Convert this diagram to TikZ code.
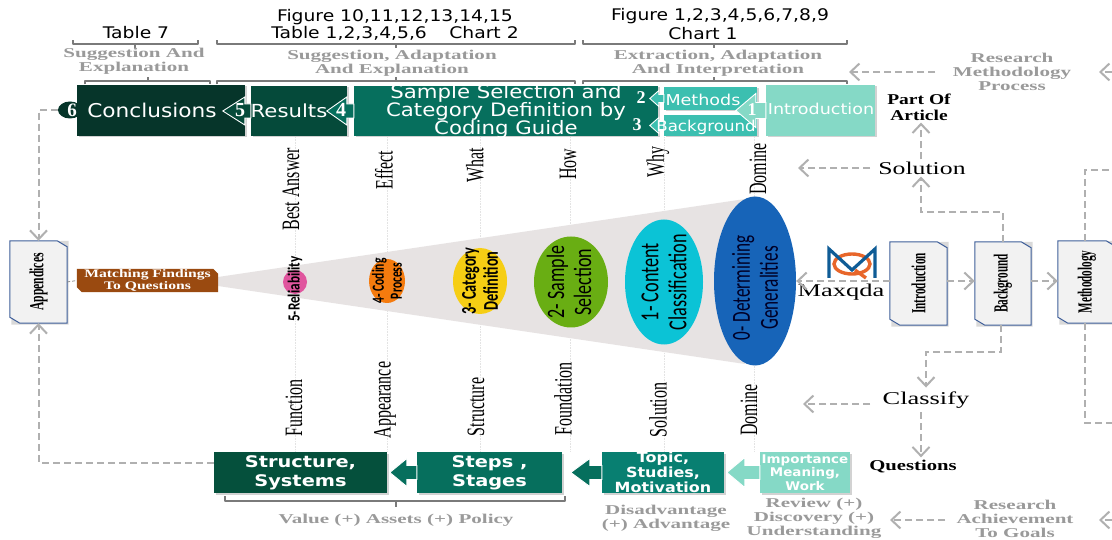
\documentclass[tikz,border=0pt]{standalone}
\usepackage{fontspec}
\setmainfont{Liberation Serif}
\newfontfamily\dvs{DejaVu Sans}
\newfontfamily\carl{Carlito}
\usetikzlibrary{arrows.meta,shapes.geometric,shadows}
\definecolor{dashgray}{HTML}{B0B0B0}
\definecolor{lblgray}{HTML}{9A9A9A}
\definecolor{brk}{HTML}{7A7A7A}
\definecolor{conc}{HTML}{06352A}
\definecolor{resl}{HTML}{054A3A}
\definecolor{samp}{HTML}{066F5D}
\definecolor{meth}{HTML}{3CBFB0}
\definecolor{intr}{HTML}{85D9C6}
\definecolor{strc}{HTML}{05503C}
\definecolor{topc}{HTML}{087F71}
\definecolor{docb}{HTML}{3F5F9A}
\definecolor{brown}{HTML}{9A4A10}
\definecolor{cone}{HTML}{E7E3E3}
\definecolor{epink}{HTML}{E0559E}
\definecolor{eorange}{HTML}{F57B0E}
\definecolor{eyellow}{HTML}{F6CE14}
\definecolor{egreen}{HTML}{69AE13}
\definecolor{ecyan}{HTML}{0BC3D6}
\definecolor{eblue}{HTML}{1764B8}
\definecolor{mnavy}{HTML}{0F5C96}
\definecolor{morange}{HTML}{E8662A}
\newcommand\fs[2]{\fontsize{#1}{#2}\selectfont}
% scaled stack of centred lines
\newcommand\stk[2]{\scalebox{#1}[1]{\vbox{\halign{\hfil##\hfil\cr#2\crcr}}}}
% left-pointing block arrow leaving a node's west side
\newcommand\blockarr[6]{\draw[white,line width=0.9pt,fill=#6,line join=miter]
  (#1.west) ++(0,#5) -- ++({-(#2-#3)},0) -- ++(0,{#4-#5}) -- ++({-#3},{-#4}) -- ++(#3,{-#4}) -- ++(0,{#4-#5}) -- ++({#2-#3},0) -- cycle;}
% brackets
\newcommand\brkdn[4]{\draw[brk,line width=1.6pt,line join=round] (#1,#3-3.5) -- (#1,#3) -- (#2,#3) -- (#2,#3-3.5) (#4,#3) -- (#4,#3+4.5);}
\newcommand\brkup[4]{\draw[brk,line width=1.6pt,line join=round] (#1,#3+3.5) -- (#1,#3) -- (#2,#3) -- (#2,#3+3.5) (#4,#3) -- (#4,#3-4);}
\newcommand\brkbot[4]{\draw[brk,line width=1.6pt,line join=round] (#1,#3-5) -- (#1,#3) -- (#2,#3) -- (#2,#3-5) (#4,#3) -- (#4,#3+6);}
% document box
\newcommand\docbox[5]{%
 \node[inner sep=0pt,minimum width=#4pt,minimum height=#5pt] (#1) at (#2,#3) {};
 \fill[black!15] ([shift={(1.5pt,-1.5pt)}]#1.north west) ++(0,0) -- ([shift={(1.5pt,0pt)}]#1.north east) -- ([shift={(1.5pt,-1.5pt)}]#1.south east) -- ([shift={(1.5pt,-1.5pt)}]#1.south west) -- cycle;
 \draw[docb,line width=1pt,fill=black!5] (#1.north west) -- ([xshift=-10pt]#1.north east) -- ([yshift=-6pt]#1.north east) -- (#1.south east) -- ([xshift=10pt]#1.south west) -- ([yshift=6pt]#1.south west) -- cycle;}
\tikzset{
 x=1pt,y=-1pt,
 boxs/.style={rectangle,inner sep=0pt,text=white,align=center,drop shadow={opacity=.35,shadow xshift=1.5pt,shadow yshift=-1.5pt}},
 dv/.style={font=\dvs\fs{#1}{#1}},
 dvw/.style={inner sep=0pt,text=white,font=\dvs\fs{#1}{#1}},
 dvb/.style 2 args={inner sep=0pt,text=white,font=\dvs\bfseries\fs{#1}{#2}},
 dline/.style={dashgray,line width=2pt,dash pattern=on 7pt off 4pt},
 dar/.style={dline,-{Straight Barb[length=9pt,width=17pt,line width=2pt]}},
 glbl/.style={text=lblgray,inner sep=0pt,font=\bfseries\fs{#1}{14}},
 vlbl/.style={rotate=90,inner sep=0pt,font=\fs{25}{25}},
 wlbl/.style={inner sep=0pt,font=\fs{#1}{#1}},
 num/.style={inner sep=0pt,text=white,font=\bfseries\fs{#1}{#1}},
 ell/.style={ellipse,inner sep=0pt,fill=#1},
 elbl/.style={rotate=90,inner sep=0pt,font=\carl\fs{#1}{#1}},
 dlab/.style={rotate=90,inner sep=0pt,font=\bfseries\fs{20}{20}},
 dotv/.style={gray!22,densely dotted,line width=.6pt}
}
\begin{document}
\begin{tikzpicture}
\useasboundingbox (0,0) rectangle (1112,540);
\fill[white] (0,0) rectangle (1112,540);
% faint guides
\foreach \gx in {295,387,480,570,664,754}{\draw[dotv] (\gx,137) -- (\gx,452);}
% top captions
\node[inner sep=0pt,dv=16] (t7) at (136,33) {\scalebox{1.17}[1]{Table 7}};
\node[inner sep=0pt,dv=16] (f10) at (395,17) {\scalebox{1.17}[1]{Figure 10,11,12,13,14,15}};
\node[inner sep=0pt,dv=16] (t16) at (395,33) {\scalebox{1.17}[1]{Table 1,2,3,4,5,6\hspace{1.2em}Chart 2}};
\node[inner sep=0pt,dv=16] (f19) at (720,16) {\scalebox{1.17}[1]{Figure 1,2,3,4,5,6,7,8,9}};
\node[inner sep=0pt,dv=16] (c1) at (703,34) {\scalebox{1.17}[1]{Chart 1}};
\brkdn{73}{198}{44}{135}
\brkdn{217}{575}{44}{396}
\brkdn{583}{847}{44}{714}
\node[glbl=13.5] (g1) at (134,61) {\stk{1.56}{Suggestion And\cr Explanation}};
\node[glbl=13.5] (g2) at (392,63) {\stk{1.56}{Suggestion, Adaptation\cr And Explanation}};
\node[glbl=13.5] (g3) at (718,63) {\stk{1.56}{Extraction, Adaptation\cr And Interpretation}};
\brkup{85}{210}{81}{148}
\brkup{217}{575}{81}{396}
\brkup{583}{847}{81}{714}
% top boxes
\node[boxs,fill=conc,minimum width=168pt,minimum height=51pt] (concl) at (161,110.5) {};
\node[boxs,fill=resl,minimum width=96pt,minimum height=50pt] (resl) at (299,111) {};
\node[boxs,fill=samp,minimum width=304pt,minimum height=50pt] (samp) at (506,111) {};
\node[boxs,fill=meth,minimum width=93pt,minimum height=23pt] (meth) at (710.5,98.5) {};
\node[boxs,fill=meth,minimum width=93pt,minimum height=21pt] (back) at (710.5,125.5) {};
\node[boxs,fill=intr,minimum width=109pt,minimum height=51pt] (intro) at (820.5,110.5) {};
\node[ellipse,fill=conc,minimum width=24pt,minimum height=17pt,inner sep=0pt] (six) at (70,110) {};
\blockarr{resl}{28}{22}{14}{7}{resl}
\blockarr{samp}{27}{20}{14}{7}{samp}
\blockarr{meth}{14}{9}{8}{4}{meth}
\blockarr{back}{14}{9}{8}{4}{meth}
\blockarr{intro}{30}{20}{17}{8}{intr}
\node[num=19] (n6) at (72,110) {6};
\node[num=20] (n5) at (240,110) {5};
\node[num=20] (n4) at (341,110) {4};
\node[num=18] (n2) at (641,98) {2};
\node[num=18] (n3) at (637,125) {3};
\node[num=18] (n1) at (752,110) {1};
\node[dvw=19] (lconc) at (152,110) {\scalebox{1.14}[1]{Conclusions}};
\node[dvw=18] (lres) at (289,111) {\scalebox{1.18}[1]{Results}};
\node[inner sep=0pt,text=white,font=\dvs\fs{18.5}{18}] (lsamp) at (506,111) {\stk{1.15}{Sample Selection and\cr Category Definition by\cr Coding Guide}};
\node[dvw=15] (lmeth) at (703,100) {\scalebox{1.17}[1]{Methods}};
\node[dvw=15] (lback) at (706,127) {\scalebox{1.11}[1]{Background}};
\node[dvw=15] (lintr) at (821,109) {\scalebox{1.17}[1]{Introduction}};
\node[inner sep=0pt,font=\bfseries\fs{15}{16}] (part) at (919,107) {\stk{1.3}{Part Of\cr Article}};
% research methodology
\node[glbl=13.5] (rmp) at (1012,72) {\stk{1.56}{Research\cr Methodology\cr Process}};
\coordinate (rmpL) at (935,72);
\coordinate (bkT) at (849,72);
\coordinate (rmpE) at (1112,72);
\coordinate (rmpR) at (1099,72);
\draw[dar] (rmpL) -- (bkT);
\draw[dar] (rmpE) -- (rmpR);
% rotated labels above
\node[vlbl] (a1) at (291,189) {\scalebox{.64}[1]{Best Answer}};
\node[vlbl] (a2) at (384,170) {\scalebox{.64}[1]{Effect}};
\node[vlbl] (a3) at (475,165) {\scalebox{.64}[1]{What}};
\node[vlbl] (a4) at (568,164) {\scalebox{.64}[1]{How}};
\node[vlbl] (a5) at (658,162) {\scalebox{.64}[1]{Why}};
\node[vlbl] (a6) at (758,169) {\scalebox{.64}[1]{Domine}};
% rotated labels below
\node[vlbl] (b1) at (294,408) {\scalebox{.64}[1]{Function}};
\node[vlbl] (b2) at (385,400) {\scalebox{.64}[1]{Appearance}};
\node[vlbl] (b3) at (476,407) {\scalebox{.64}[1]{Structure}};
\node[vlbl] (b4) at (563,399) {\scalebox{.64}[1]{Foundation}};
\node[vlbl] (b5) at (658,410) {\scalebox{.64}[1]{Solution}};
\node[vlbl] (b6) at (749,410) {\scalebox{.64}[1]{Domine}};
% cone
\fill[cone] (218,277) -- (745,199) -- (745,364) -- (218,286) -- cycle;
\node[ell=epink,minimum width=24pt,minimum height=24pt] (e5) at (295,282) {};
\node[ell=eorange,minimum width=36pt,minimum height=44pt] (e4) at (387,281) {};
\node[ell=eyellow,minimum width=54pt,minimum height=66pt] (e3) at (480,281) {};
\node[ell=egreen,minimum width=74pt,minimum height=91pt] (e2) at (571,282) {};
\node[ell=ecyan,minimum width=78pt,minimum height=125pt] (e1) at (664,282) {};
\node[ell=eblue,minimum width=82pt,minimum height=169pt] (e0) at (755,281) {};
\node[elbl=17] (te5) at (295,289) {\textbf{\scalebox{.78}[1]{5-Reliability}}};
\node[elbl=17] (te4) at (387,281) {\fs{17}{18}\stk{.68}{\bfseries 4- Coding\cr\bfseries Process}};
\node[elbl=21] (te3) at (480,281) {\fs{21}{22}\stk{.68}{\bfseries 3- Category\cr\bfseries Definition}};
\node[elbl=25] (te2) at (569,282) {\fs{25}{27}\stk{.72}{2- Sample\cr Selection}};
\node[elbl=26] (te1) at (664,282) {\fs{26}{28}\stk{.7}{1- Content\cr Classification}};
\node[elbl=26,text=black!85!blue] (te0) at (755,288) {\fs{26}{28}\stk{.66}{0- Determining\cr Generalities}};
% appendices & matching
\docbox{app}{38.5}{282}{57}{82}
\node[dlab] (tapp) at (app) {\scalebox{.58}[1]{Appendices}};
\node[inner sep=0pt,minimum width=141pt,minimum height=23pt] (match) at (147.5,280.5) {};
\fill[brown] (match.north west) -- ([xshift=-5pt]match.north east) -- ([yshift=-5pt]match.north east) -- (match.south east) -- ([xshift=5pt]match.south west) -- ([yshift=5pt]match.south west) -- cycle;
\node[inner sep=0pt,text=white,font=\bfseries\fs{11.5}{11.5}] (tmatch) at (match) {\stk{1.36}{Matching Findings\cr To Questions}};
\draw[gray,densely dashed,line width=.7pt] (app.east) -- (match.west);
% maxqda
\draw[morange,line width=3.4pt] (852,264) ellipse [x radius=18,y radius=10];
\draw[morange,line width=3.4pt] (855,270) -- (866,278);
\draw[mnavy,line width=3.2pt,line join=miter] (829,278) -- (829,249) -- (852,270) -- (875,249) -- (875,278);
\node[wlbl=18] (maxq) at (841,292) {\scalebox{1.47}[1]{Maxqda}};
% docs
\docbox{dintro}{918.5}{283.5}{57}{83}
\docbox{dback}{1003}{283.5}{56}{83}
\docbox{dmeth}{1087}{282}{58}{82}
\node[dlab] (tdi) at (dintro) {\scalebox{.56}[1]{Introduction}};
\node[dlab] (tdb) at (dback) {\scalebox{.56}[1]{Background}};
\node[dlab] (tdm) at (dmeth) {\scalebox{.56}[1]{Methodology}};
\draw[dar] (dintro.west |- e0.east) -- (e0.east);
\draw[dar] (dintro.east |- e0.east) -- (dback.west |- e0.east);
\draw[dar] (dback.east |- e0.east) -- (dmeth.west |- e0.east);
% solution & classify
\node[wlbl=18] (sol) at (922,168) {\scalebox{1.43}[1]{Solution}};
\node[wlbl=18] (cla) at (926,400) {\scalebox{1.47}[1]{Classify}};
\node[inner sep=0pt,font=\bfseries\fs{15}{15}] (ques) at (913,467) {\scalebox{1.38}[1]{Questions}};
\coordinate (solL) at (870,168);
\coordinate (solT) at (798,168);
\coordinate (claL) at (870,404);
\coordinate (claT) at (803,404);
\draw[dar] (solL) -- (solT);
\draw[dar] (claL) -- (claT);
\draw[dar] ([xshift=-1pt,yshift=2pt]sol.north) -- ([xshift=2pt,yshift=-2pt]part.south);
\draw[dar] (dback.north) -- ++(0,-30) -| ([xshift=-1pt,yshift=-2pt]sol.south);
\draw[dar] ([xshift=-2pt]dback.south) -- ++(0,27) -| ([yshift=4pt]cla.north);
\draw[dar] ([xshift=-5pt,yshift=-4pt]cla.south) -- ([xshift=8pt,yshift=3pt]ques.north);
\coordinate (mtR) at (1112,170);
\coordinate (mbR) at (1112,423);
\draw[dline] ([xshift=-2pt]dmeth.north) |- (mtR);
\draw[dline] ([xshift=-2pt]dmeth.south) |- (mbR);
% bottom boxes
\node[boxs,fill=strc,minimum width=173pt,minimum height=41pt] (bstr) at (300.5,472.5) {};
\node[boxs,fill=samp,minimum width=145pt,minimum height=41pt] (bste) at (489.5,472.5) {};
\node[boxs,fill=topc,minimum width=122pt,minimum height=41pt] (btop) at (663,472.5) {};
\node[boxs,fill=intr,minimum width=90pt,minimum height=41pt] (bimp) at (805,472.5) {};
\blockarr{bste}{27}{17}{14}{7}{samp}
\blockarr{btop}{31}{19}{14}{7}{samp}
\blockarr{bimp}{33}{18}{15}{7}{intr}
\node[dvb={16}{19}] (tstr) at (bstr) {\stk{1.21}{Structure,\cr Systems}};
\node[dvb={16}{19}] (tste) at (bste) {\stk{1.21}{Steps ,\cr Stages}};
\node[dvb={14}{15}] (ttop) at (btop) {\stk{1.14}{Topic,\cr Studies,\cr Motivation}};
\node[dvb={12}{13.5}] (timp) at (bimp) {\stk{1.12}{Importance\cr Meaning,\cr Work}};
\brkbot{225}{565}{501}{396}
% bottom labels
\node[glbl=13.5] (lv) at (396,520) {\stk{1.56}{Value (+) Assets (+) Policy}};
\node[glbl=13.5] (ld) at (666,518) {\stk{1.56}{Disadvantage\cr (+) Advantage}};
\node[glbl=13.5] (lr) at (814,518) {\stk{1.56}{Review (+)\cr Discovery (+)\cr Understanding}};
\node[glbl=13.5] (ra) at (1015,519) {\stk{1.56}{Research\cr Achievement\cr To Goals}};
\coordinate (raL) at (945,520);
\coordinate (raT) at (890,520);
\coordinate (raE) at (1112,520);
\coordinate (raR) at (1099,520);
\draw[dar] (raL) -- (raT);
\draw[dar] (raE) -- (raR);
% side connectors
\draw[dar] (six.west) -| (app.north);
\draw[dar] ([yshift=10pt]bstr.west) -| (app.south);
\end{tikzpicture}
\end{document}
